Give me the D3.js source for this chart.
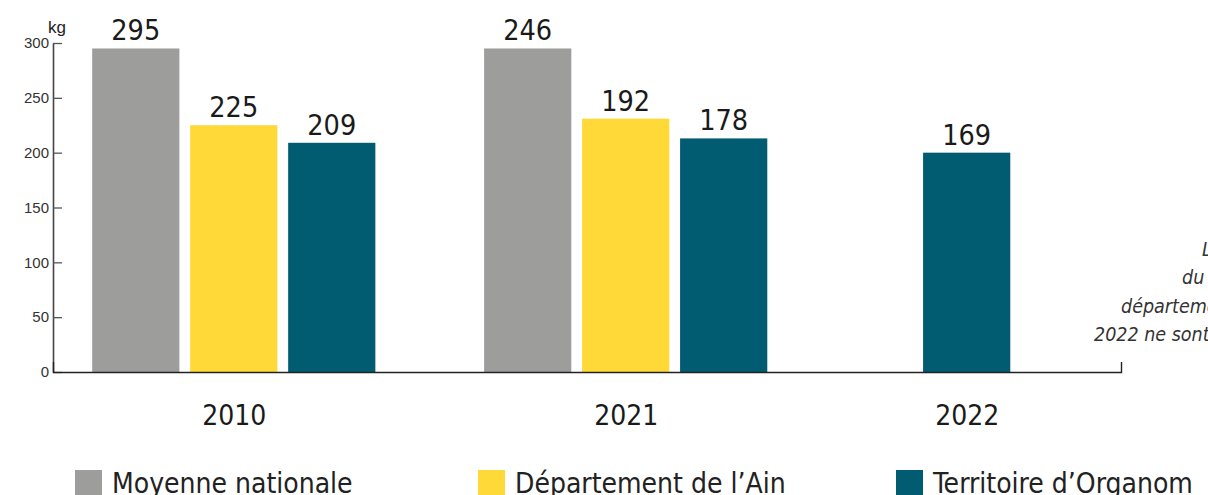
<!DOCTYPE html>
<html>
<head>
<meta charset="utf-8">
<script src="https://cdn.jsdelivr.net/npm/d3@7"></script>
<style>
  html, body { margin: 0; padding: 0; background: #fff; overflow: hidden; }
  svg { display: block; }
  .din { font-family: "DejaVu Sans Condensed", "DejaVu Sans", sans-serif; font-stretch: condensed; }
  .y-axis text { font-family: "Liberation Sans", Arial, sans-serif; font-size: 15px; fill: #333; }
</style>
</head>
<body>
<div id="chart"></div>
<script>
// Data
const years = ["2010", "2021", "2022"];
const seriesNames = ["Moyenne nationale", "Département de l\u2019Ain", "Territoire d\u2019Organom"];
const seriesColors = ["#9d9d9c", "#fed937", "#015c71"];

// printed values (kg)
const moyenneNationale = [295, 246, null];
const departementAin = [225, 192, null];
const territoireOrganom = [209, 178, 169];

// bar heights as drawn on the kg axis (the picture does not draw 2021/2022 to scale)
const moyenneNationaleBar = [295, 295, null];
const departementAinBar = [225, 231, null];
const territoireOrganomBar = [209, 213, 200];

const yTicks = [0, 50, 100, 150, 200, 250, 300];
const noteLines = ["Les", "du niveau", "départemental de", "2022 ne sont pas"];

const printed = [moyenneNationale, departementAin, territoireOrganom];
const drawn = [moyenneNationaleBar, departementAinBar, territoireOrganomBar];

// Layout
const width = 1208, height = 495;
const axisLeftX = 53, axisRightX = 1121, baseY = 372, topY = 43;
const groupGaps = [1, 1.48];

const svg = d3.select("#chart").append("svg")
  .attr("width", width)
  .attr("height", height);

const y = d3.scaleLinear().domain([0, 300]).range([baseY, topY]);
const x = d3.scaleLinear().domain([-0.4, 10.5]).range([axisLeftX, axisRightX]);
const barW = (x(1) - x(0)) * 0.89;

// assign each bar a slot along the x axis
const bars = [];
const groupCenters = [];
let slot = 0;
years.forEach((year, i) => {
  const first = slot;
  printed.forEach((vals, s) => {
    if (vals[i] == null) return;
    bars.push({ year, series: s, value: vals[i], height: drawn[s][i], slot: slot });
    slot += 1;
  });
  const last = slot - 1;
  groupCenters.push((first + last) / 2 + (barW / (x(1) - x(0))) / 2);
  if (i < groupGaps.length) slot += groupGaps[i];
});

// Bars
svg.append("g").attr("class", "bars")
  .selectAll("rect")
  .data(bars)
  .join("rect")
  .attr("x", (d) => x(d.slot))
  .attr("y", (d) => y(d.height))
  .attr("width", barW)
  .attr("height", (d) => y(0) - y(d.height))
  .attr("fill", (d) => seriesColors[d.series]);

// Value labels
svg.append("g").attr("class", "labels din")
  .selectAll("text")
  .data(bars)
  .join("text")
  .attr("x", (d) => x(d.slot) + barW / 2)
  .attr("y", (d) => y(d.height) - 8)
  .attr("text-anchor", "middle")
  .attr("font-size", "28.5px")
  .attr("fill", "#1a1a1a")
  .text((d) => d.value);

// Y axis
const yAxisG = svg.append("g")
  .attr("class", "y-axis")
  .attr("transform", `translate(${axisLeftX},0)`)
  .call(d3.axisLeft(y).tickValues(yTicks).tickSizeInner(-9).tickSizeOuter(0).tickPadding(4));
yAxisG.select(".domain").attr("stroke", "#444").attr("stroke-width", 1.6);
yAxisG.selectAll(".tick line").attr("stroke", "#555").attr("stroke-width", 1.3);

svg.append("text")
  .attr("x", 57)
  .attr("y", 33)
  .attr("text-anchor", "middle")
  .attr("font-family", "Liberation Sans, Arial, sans-serif")
  .attr("font-size", "17px")
  .attr("fill", "#222")
  .text("kg");

// X axis
const xAxisG = svg.append("g")
  .attr("class", "x-axis din")
  .attr("transform", `translate(0,${baseY})`)
  .call(d3.axisBottom(x)
    .tickValues(groupCenters)
    .tickFormat((d, i) => years[i])
    .tickSizeInner(0)
    .tickSizeOuter(-10)
    .tickPadding(33));
xAxisG.select(".domain").attr("stroke", "#222").attr("stroke-width", 1.4);
xAxisG.selectAll(".tick text")
  .attr("font-family", null)
  .attr("font-size", "28px")
  .attr("fill", "#1a1a1a");

// Note on the right (cut by the frame, as in the source)
const noteX = [1202, 1182, 1121, 1094];
svg.append("g").attr("class", "note din")
  .selectAll("text")
  .data(noteLines)
  .join("text")
  .attr("x", (d, i) => noteX[i])
  .attr("y", (d, i) => 256 + i * 28.3)
  .attr("font-size", "19.5px")
  .attr("font-style", "italic")
  .attr("fill", "#333")
  .text((d) => d);

// Legend
const legendX = [75, 478, 896];
const legend = svg.append("g").attr("class", "legend din")
  .selectAll("g")
  .data(seriesNames)
  .join("g")
  .attr("transform", (d, i) => `translate(${legendX[i]},470)`);
legend.append("rect")
  .attr("width", 27)
  .attr("height", 27)
  .attr("fill", (d, i) => seriesColors[i]);
legend.append("text")
  .attr("x", 37)
  .attr("y", 23)
  .attr("font-size", "28px")
  .attr("fill", "#222")
  .text((d) => d);
</script>
</body>
</html>
